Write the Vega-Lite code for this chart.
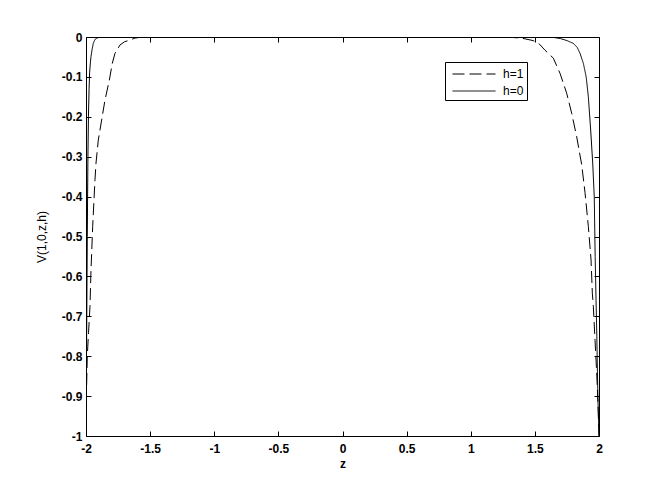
{
  "$schema": "https://vega.github.io/schema/vega-lite/v6.json",
  "width": 513,
  "height": 399,
  "autosize": {"type": "none"},
  "padding": {"left": 86, "top": 37, "right": 64, "bottom": 55},
  "background": "white",
  "config": {
    "view": {"stroke": "black", "strokeWidth": 1},
    "axis": {
      "grid": false,
      "domain": false,
      "tickColor": "black",
      "tickSize": -5,
      "labelFont": "Liberation Sans",
      "labelFontWeight": "bold",
      "labelFontSize": 12,
      "labelColor": "black",
      "titleFont": "Liberation Sans",
      "titleFontWeight": "normal",
      "titleFontSize": 12,
      "titleColor": "black"
    }
  },
  "data": {
    "values": [
      {"h": "h=0", "z": -2.0, "v": -1.0},
      {"h": "h=0", "z": -1.997, "v": -0.85},
      {"h": "h=0", "z": -1.994, "v": -0.7},
      {"h": "h=0", "z": -1.99, "v": -0.5},
      {"h": "h=0", "z": -1.985, "v": -0.3},
      {"h": "h=0", "z": -1.981, "v": -0.2},
      {"h": "h=0", "z": -1.976, "v": -0.13},
      {"h": "h=0", "z": -1.972, "v": -0.09},
      {"h": "h=0", "z": -1.966, "v": -0.065},
      {"h": "h=0", "z": -1.961, "v": -0.049},
      {"h": "h=0", "z": -1.952, "v": -0.03},
      {"h": "h=0", "z": -1.943, "v": -0.016},
      {"h": "h=0", "z": -1.93, "v": -0.006},
      {"h": "h=0", "z": -1.91, "v": -0.002},
      {"h": "h=0", "z": -1.88, "v": 0},
      {"h": "h=0", "z": -1.5, "v": 0},
      {"h": "h=0", "z": -1.0, "v": 0},
      {"h": "h=0", "z": 0, "v": 0},
      {"h": "h=0", "z": 1.0, "v": 0},
      {"h": "h=0", "z": 1.6, "v": 0},
      {"h": "h=0", "z": 1.644, "v": -0.001},
      {"h": "h=0", "z": 1.7, "v": -0.004},
      {"h": "h=0", "z": 1.75, "v": -0.009},
      {"h": "h=0", "z": 1.8, "v": -0.016},
      {"h": "h=0", "z": 1.83, "v": -0.026},
      {"h": "h=0", "z": 1.852, "v": -0.041},
      {"h": "h=0", "z": 1.878, "v": -0.066},
      {"h": "h=0", "z": 1.9, "v": -0.1},
      {"h": "h=0", "z": 1.917, "v": -0.15},
      {"h": "h=0", "z": 1.935, "v": -0.233},
      {"h": "h=0", "z": 1.951, "v": -0.316},
      {"h": "h=0", "z": 1.963, "v": -0.4},
      {"h": "h=0", "z": 1.97, "v": -0.55},
      {"h": "h=0", "z": 1.977, "v": -0.66},
      {"h": "h=0", "z": 1.983, "v": -0.75},
      {"h": "h=0", "z": 1.99, "v": -0.88},
      {"h": "h=0", "z": 1.995, "v": -0.95},
      {"h": "h=0", "z": 2.0, "v": -1.0},
      {"h": "h=1", "z": -2.0, "v": -1.0},
      {"h": "h=1", "z": -1.997, "v": -0.9},
      {"h": "h=1", "z": -1.99, "v": -0.8},
      {"h": "h=1", "z": -1.98, "v": -0.74},
      {"h": "h=1", "z": -1.969, "v": -0.676},
      {"h": "h=1", "z": -1.961, "v": -0.584},
      {"h": "h=1", "z": -1.948, "v": -0.475},
      {"h": "h=1", "z": -1.93, "v": -0.358},
      {"h": "h=1", "z": -1.922, "v": -0.316},
      {"h": "h=1", "z": -1.904, "v": -0.258},
      {"h": "h=1", "z": -1.878, "v": -0.208},
      {"h": "h=1", "z": -1.852, "v": -0.158},
      {"h": "h=1", "z": -1.818, "v": -0.108},
      {"h": "h=1", "z": -1.795, "v": -0.066},
      {"h": "h=1", "z": -1.774, "v": -0.041},
      {"h": "h=1", "z": -1.735, "v": -0.02},
      {"h": "h=1", "z": -1.7, "v": -0.012},
      {"h": "h=1", "z": -1.657, "v": -0.0075},
      {"h": "h=1", "z": -1.62, "v": -0.003},
      {"h": "h=1", "z": -1.566, "v": 0},
      {"h": "h=1", "z": -1.0, "v": 0},
      {"h": "h=1", "z": 0, "v": 0},
      {"h": "h=1", "z": 1.0, "v": 0},
      {"h": "h=1", "z": 1.28, "v": 0},
      {"h": "h=1", "z": 1.4, "v": -0.003},
      {"h": "h=1", "z": 1.486, "v": -0.009},
      {"h": "h=1", "z": 1.53, "v": -0.016},
      {"h": "h=1", "z": 1.579, "v": -0.033},
      {"h": "h=1", "z": 1.644, "v": -0.053},
      {"h": "h=1", "z": 1.696, "v": -0.091},
      {"h": "h=1", "z": 1.748, "v": -0.141},
      {"h": "h=1", "z": 1.787, "v": -0.191},
      {"h": "h=1", "z": 1.826, "v": -0.25},
      {"h": "h=1", "z": 1.865, "v": -0.32},
      {"h": "h=1", "z": 1.891, "v": -0.39},
      {"h": "h=1", "z": 1.917, "v": -0.475},
      {"h": "h=1", "z": 1.938, "v": -0.559},
      {"h": "h=1", "z": 1.948, "v": -0.642},
      {"h": "h=1", "z": 1.956, "v": -0.676},
      {"h": "h=1", "z": 1.969, "v": -0.76},
      {"h": "h=1", "z": 1.982, "v": -0.842},
      {"h": "h=1", "z": 1.995, "v": -0.942},
      {"h": "h=1", "z": 2.0, "v": -1.0}
    ]
  },
  "layer": [
    {
      "mark": {"type": "line", "color": "black", "strokeWidth": 1, "clip": true},
      "encoding": {
        "x": {
          "field": "z", "type": "quantitative",
          "scale": {"domain": [-2, 2], "nice": false, "zero": false},
          "axis": {"orient": "bottom", "values": [-2, -1.5, -1, -0.5, 0, 0.5, 1, 1.5, 2], "labelExpr": "toString(datum.value)", "title": "z", "titleFontWeight": "bold", "labelPadding": 12, "titlePadding": 4, "labelFlush": false}
        },
        "y": {
          "field": "v", "type": "quantitative",
          "scale": {"domain": [-1, 0], "nice": false, "zero": false},
          "axis": {"orient": "left", "values": [0, -0.1, -0.2, -0.3, -0.4, -0.5, -0.6, -0.7, -0.8, -0.9, -1], "labelExpr": "toString(datum.value)", "title": "V(1,0,z,h)", "labelPadding": 9, "titlePadding": 13, "labelFlush": false}
        },
        "strokeDash": {
          "field": "h", "type": "nominal",
          "scale": {"domain": ["h=1", "h=0"], "range": [[12, 5], [1, 0]]},
          "legend": {
            "title": null,
            "orient": "none",
            "legendX": 359,
            "legendY": 25,
            "symbolType": "M-0.53,0H4.53",
            "symbolSize": 289,
            "symbolStrokeColor": "black",
            "symbolFillColor": "transparent",
            "symbolStrokeWidth": 1,
            "labelFont": "Liberation Sans",
            "labelFontSize": 12,
            "labelColor": "black",
            "labelExpr": "datum.label + '\u00a0\u00a0\u00a0'",
            "strokeColor": "black",
            "fillColor": "white",
            "padding": 3,
            "rowPadding": 2,
            "labelOffset": 37
          }
        }
      }
    },
    {
      "mark": {"type": "line", "opacity": 0},
      "encoding": {
        "x": {
          "field": "z", "type": "quantitative",
          "scale": {"domain": [-2, 2], "nice": false, "zero": false},
          "axis": {"orient": "top", "values": [-2, -1.5, -1, -0.5, 0, 0.5, 1, 1.5, 2], "labels": false, "title": null}
        },
        "y": {
          "field": "v", "type": "quantitative",
          "scale": {"domain": [-1, 0], "nice": false, "zero": false},
          "axis": {"orient": "right", "values": [0, -0.1, -0.2, -0.3, -0.4, -0.5, -0.6, -0.7, -0.8, -0.9, -1], "labels": false, "title": null}
        },
        "detail": {"field": "h"}
      }
    }
  ],
  "resolve": {"axis": {"x": "independent", "y": "independent"}}
}
